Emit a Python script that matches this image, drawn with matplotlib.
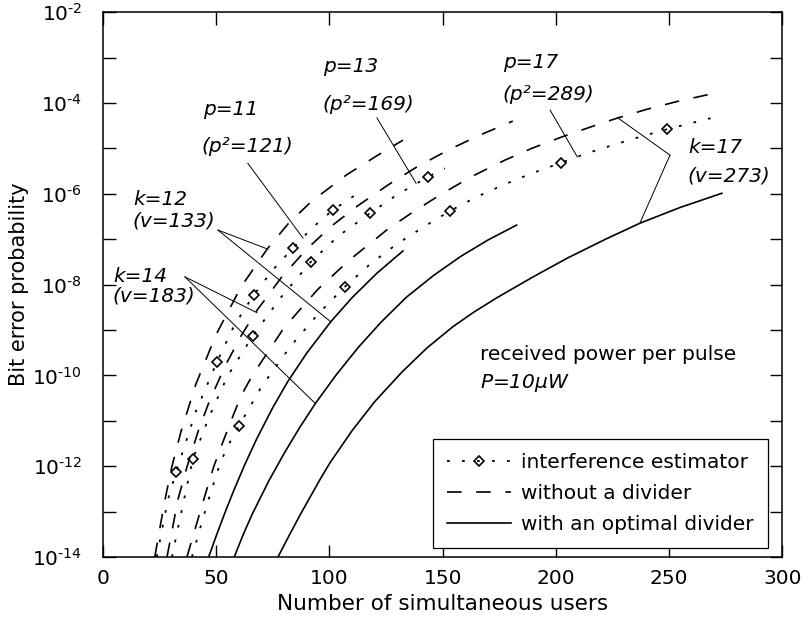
import numpy as np
import matplotlib.pyplot as plt

plt.rcParams['font.family'] = ['DejaVu Sans']
plt.rcParams['mathtext.fontset'] = 'dejavusans'
plt.rcParams['lines.scale_dashes'] = False

# log10 of bit error probability
# with an optimal divider (solid)
s1_x = [46.7, 50, 54, 58, 62.6, 68, 75, 81.6, 90, 100.6, 110, 121, 132.5]
s1_L = [-14, -13.54, -13.01, -12.51, -11.97, -11.39, -10.71, -10.14, -9.51, -8.82,
        -8.29, -7.75, -7.26]
s2_x = [58, 62, 66, 73.2, 80, 87, 93.8, 103, 113, 123, 134, 146, 158, 170, 182.7]
s2_L = [-14, -13.5, -13.05, -12.33, -11.72, -11.14, -10.62, -9.99, -9.37, -8.82,
        -8.28, -7.8, -7.38, -7.02, -6.69]
s3_x = [77.3, 82, 87, 95.8, 100.2, 110, 120, 132, 143, 154.5, 164, 174, 190, 205, 222,
        237.1, 255, 273.3]
s3_L = [-14, -13.55, -13.08, -12.3, -11.93, -11.22, -10.58, -9.93, -9.40, -8.93, -8.60,
        -8.29, -7.83, -7.42, -7.0, -6.65, -6.3, -5.99]

# without a divider (dashed)
d1_x = [22.9, 25.2, 27.4, 30.5, 34.4, 41, 50, 61, 72.8, 82, 92.3, 107.7, 121.4, 132.5]
d1_L = [-14, -13.35, -12.74, -12.0, -11.25, -10.2, -9.1, -8.05, -7.2, -6.65, -6.16,
        -5.58, -5.15, -4.82]
d2_x = [28.3, 30.8, 33.1, 37.1, 42, 47, 54, 61, 68, 79, 90, 101, 112.1, 126.7, 138.6,
        153.2, 166.4, 181]
d2_L = [-14, -13.35, -12.74, -12.02, -11.24, -10.57, -9.79, -9.13, -8.57, -7.83, -7.22,
        -6.71, -6.28, -5.78, -5.41, -5.02, -4.71, -4.40]
d3_x = [37.1, 41.5, 44.5, 49, 53.5, 57, 61, 66, 80, 95, 109.1, 125.8, 136.4, 149.7, 162.9,
        177.5, 189.4, 202.6, 215.9, 227.4, 240.2, 253.4, 273.3]
d3_L = [-14, -13.25, -12.74, -12.0, -11.4, -10.95, -10.45, -10.0, -8.95, -8.1, -7.45,
        -6.78, -6.42, -6.0, -5.62, -5.26, -5.0, -4.75, -4.52, -4.33, -4.14, -3.97, -3.75]

# interference estimator (dash-dot with diamonds)
e1_x = [23.8, 26.3, 28.7, 32.3, 41, 50.3, 58, 66.6, 75, 83.9, 92, 101.5, 113.5]
e1_L = [-14, -13.35, -12.74, -12.13, -10.8, -9.71, -8.9, -8.23, -7.68, -7.20, -6.77,
        -6.36, -5.96]
e2_x = [30.5, 33.2, 35.8, 39.7, 47, 55, 66.2, 78, 91.8, 104, 117.9, 130, 143.5, 151]
e2_L = [-14, -13.35, -12.74, -11.84, -10.9, -10.02, -9.13, -8.32, -7.5, -6.93, -6.43,
        -6.02, -5.63, -5.44]
e3_x = [39.3, 44, 47.5, 52, 56, 60.0, 70, 83, 95, 106.8, 118, 130, 142, 153.2, 165, 178,
        190, 202.2, 213, 225, 237, 249.0, 268.9]
e3_L = [-14, -13.18, -12.6, -11.9, -11.48, -11.12, -10.25, -9.35, -8.65, -8.05, -7.55,
        -7.1, -6.72, -6.38, -6.07, -5.78, -5.54, -5.32, -5.12, -4.93, -4.75, -4.58, -4.33]
e1_marks = [3, 5, 7, 9, 11]
e2_marks = [3, 6, 8, 10, 12]
e3_marks = [5, 9, 13, 17, 21]

fig = plt.figure(figsize=(8.04, 6.38), dpi=100)
ax = fig.add_axes([0.128, 0.127, 0.845, 0.854])

dash = (0, (10.5, 10.5))
dashdot = (0, (2.0, 8.8))

for x, L in [(s1_x, s1_L), (s2_x, s2_L), (s3_x, s3_L)]:
    ax.plot(x, 10.0 ** np.array(L), color='black', lw=1.2)
for x, L in [(d1_x, d1_L), (d2_x, d2_L), (d3_x, d3_L)]:
    ax.plot(x, 10.0 ** np.array(L), color='black', lw=1.2, linestyle=dash)
for x, L, m in [(e1_x, e1_L, e1_marks), (e2_x, e2_L, e2_marks), (e3_x, e3_L, e3_marks)]:
    ax.plot(x, 10.0 ** np.array(L), color='black', lw=1.3, linestyle=dashdot,
            marker='D', markevery=m, ms=5.5, mfc='none', mec='black', mew=1.2)

ax.set_yscale('log')
ax.set_xlim(0, 300)
ax.set_ylim(1e-14, 1e-2)
ax.set_xticks([0, 50, 100, 150, 200, 250, 300])
ax.set_yticks([10.0 ** k for k in range(-14, -1)])
ax.set_yticklabels(['$10^{\u2010%d}$' % -k if k % 2 == 0 else '' for k in range(-14, -1)])
ax.minorticks_off()
ax.tick_params(direction='in', length=9, width=1.0, top=True, right=True,
               labelsize=14.5)
ax.tick_params(axis='y', pad=15)
ax.tick_params(axis='x', pad=9)
for sp in ax.spines.values():
    sp.set_linewidth(1.1)
ax.set_xlabel('Number of simultaneous users', fontsize=15.5, labelpad=4)
ax.set_ylabel('Bit error probability', fontsize=15)
ax.yaxis.set_label_coords(-0.109, 0.5)

# annotations
def lead(x0, L0, x1, L1):
    ax.plot([x0, x1], [10.0 ** L0, 10.0 ** L1], color='black', lw=0.7)

it = dict(style='italic', fontsize=14.5)
ax.text(44.2, 10 ** -4.27, 'p=11', **it)
ax.text(43.7, 10 ** -5.08, '(p²=121)', **it)
ax.text(97.1, 10 ** -3.32, 'p=13', **it)
ax.text(97.1, 10 ** -4.16, '(p²=169)', **it)
ax.text(176.6, 10 ** -3.23, 'p=17', **it)
ax.text(176.6, 10 ** -3.94, '(p²=289)', **it)
ax.text(13.2, 10 ** -6.25, 'k=12', **it)
ax.text(13.2, 10 ** -6.73, '(v=133)', **it)
ax.text(4.4, 10 ** -7.94, 'k=14', **it)
ax.text(4.4, 10 ** -8.38, '(v=183)', **it)
ax.text(258.3, 10 ** -5.10, 'k=17', **it)
ax.text(258.3, 10 ** -5.74, '(v=273)', **it)

lead(64, -5.33, 88.4, -6.98)
lead(121, -4.33, 138.3, -5.77)
lead(197.5, -4.16, 209.5, -5.19)
lead(50.8, -6.8, 72.8, -7.22)
lead(50.8, -6.8, 100.6, -8.82)
lead(36.2, -7.83, 68, -8.62)
lead(36.2, -7.83, 93.8, -10.62)
lead(250.4, -5.15, 227.4, -4.33)
lead(250.4, -5.15, 237.1, -6.65)

ax.text(166.4, 10 ** -9.66, 'received power per pulse', fontsize=14.5)
ax.text(166.4, 10 ** -10.28, r'$P$=10$\mu$$W$', fontsize=14.5, style='italic')

ax.plot([], [], color='black', lw=1.3, linestyle=dashdot, marker='D', ms=5.5,
        mfc='none', mec='black', mew=1.2, label='interference estimator')
ax.plot([], [], color='black', lw=1.2, linestyle=dash, label='without a divider')
ax.plot([], [], color='black', lw=1.2, label='with an optimal divider')
leg = ax.legend(loc='lower right', bbox_to_anchor=(0.979, 0.0165), borderaxespad=0,
                fontsize=14.5, fancybox=False, edgecolor='black', framealpha=1,
                handlelength=3.2, handletextpad=0.5, labelspacing=0.6, borderpad=0.7)
leg.get_frame().set_linewidth(0.9)

fig.savefig('out.png', dpi=100)
